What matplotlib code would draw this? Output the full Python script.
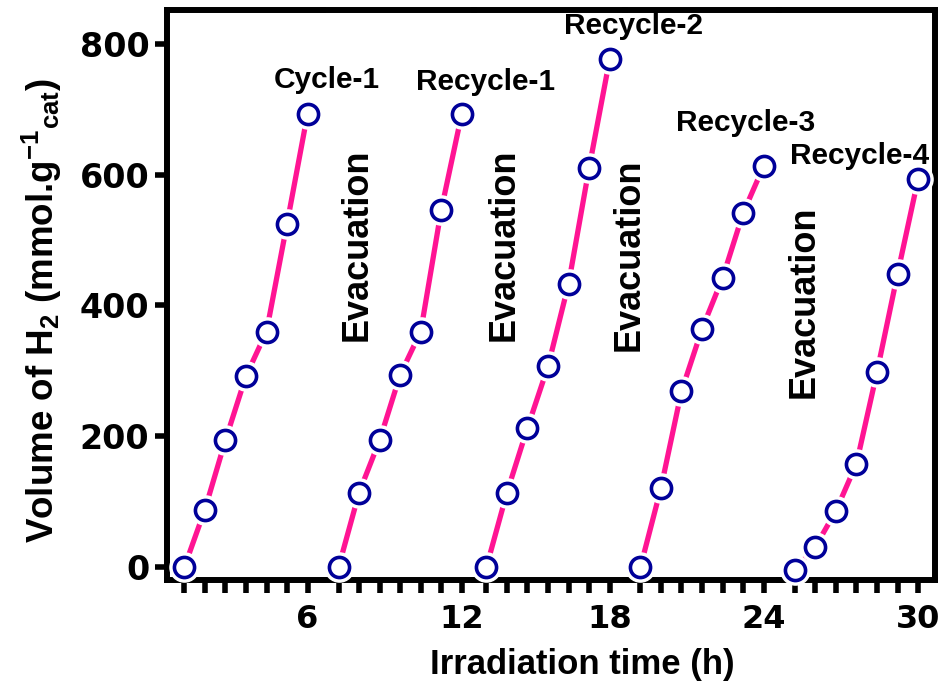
import matplotlib
matplotlib.use("Agg")
import matplotlib.pyplot as plt

# H2 evolution over five 6 h irradiation runs, sampled hourly
cycle_names = ["Cycle-1", "Recycle-1", "Recycle-2", "Recycle-3", "Recycle-4"]
hours = [0, 1, 2, 3, 4, 5, 6]
h2_cycle1 = [0, 88, 194, 292, 360, 525, 693]
h2_recycle1 = [0, 114, 194, 294, 360, 546, 693]
h2_recycle2 = [0, 114, 213, 307, 433, 610, 776]
h2_recycle3 = [0, 121, 269, 364, 442, 541, 613]
h2_recycle4 = [-4, 31, 86, 158, 298, 448, 593]
y_ticks = [0, 200, 400, 600, 800]
cycle_hours = 6

runs = [h2_cycle1, h2_recycle1, h2_recycle2, h2_recycle3, h2_recycle4]

# layout of the stitched panels (hours of empty space either side of each run)
pad_left = [0.83, 0.75, 0.60, 0.77, 0.77]
pad_right = [0.76, 0.60, 0.73, 0.75, 0.84]
# label offsets (points) from the last point of each run
name_offsets = [(14, 24), (17, 23), (17, 24), (-13, 31), (-42, 17)]
# "Evacuation" notes: (panel, x in h, y)
evac_pos = [(1, 6.92, 493), (2, 12.88, 493), (3, 17.47, 477), (4, 24.44, 405)]

pink = "#ff1493"
navy = "#000099"
lab_font = "Liberation Sans"

plt.rcParams["mathtext.fontset"] = "custom"
plt.rcParams["mathtext.rm"] = "Liberation Sans:bold"
plt.rcParams["mathtext.it"] = "Liberation Sans:bold"
plt.rcParams["mathtext.bf"] = "Liberation Sans:bold"

spans = [cycle_hours + l + r for l, r in zip(pad_left, pad_right)]

fig = plt.figure(figsize=(9.4, 6.94), dpi=100)
gs = fig.add_gridspec(1, 5, left=0.178, right=0.995, bottom=0.164, top=0.986,
                      wspace=0, width_ratios=spans)

axes = []
for k, vals in enumerate(runs):
    ax = fig.add_subplot(gs[0, k])
    ax.set_facecolor("none")
    t0 = k * cycle_hours
    x = [t0 + h for h in hours]

    ax.plot(x, vals, color=pink, lw=3.8, zorder=2, solid_capstyle="round")
    # white ring around each symbol leaves a gap in the line
    ax.plot(x, vals, ls="none", marker="o", ms=21, mfc="white", mec="white",
            zorder=3, clip_on=False)
    ax.plot(x, vals, ls="none", marker="o", ms=14.5, mfc="white", mec=navy,
            mew=2.6, zorder=4, clip_on=False)

    ax.set_xlim(t0 - pad_left[k], t0 + cycle_hours + pad_right[k])
    ax.set_ylim(-20, 852)

    ax.set_xticks(x)
    ax.set_xticklabels([""] * (len(x) - 1) + [str(x[-1])],
                       fontsize=23, fontweight="bold", family="DejaVu Sans")
    ax.tick_params(axis="x", direction="out", length=9, width=4, pad=8)

    for side in ax.spines:
        ax.spines[side].set_linewidth(4.3)
    if k > 0:
        ax.spines["left"].set_visible(False)
        ax.tick_params(axis="y", left=False, labelleft=False)
    if k < len(runs) - 1:
        ax.spines["right"].set_visible(False)

    ax.annotate(cycle_names[k], (x[-1], vals[-1]), xytext=name_offsets[k],
                textcoords="offset points", ha="center", va="center",
                fontsize=21.5, fontweight="bold", family=lab_font,
                annotation_clip=False, zorder=5)
    axes.append(ax)

ax0 = axes[0]
ax0.set_yticks(y_ticks)
ax0.set_yticklabels([str(v) for v in y_ticks], fontsize=24,
                    fontweight="bold", family="DejaVu Sans")
ax0.tick_params(axis="y", direction="out", length=9, width=4, pad=4)

for k, xe, ye in evac_pos:
    axes[k].text(xe, ye, "Evacuation", rotation=90, ha="center", va="center",
                 fontsize=26, fontweight="bold", family=lab_font, clip_on=False)

fig.text(0.045, 0.553, r"Volume of H$_2$ (mmol.g$^{-1}$$_{cat}$)", rotation=90,
         ha="center", va="center", fontsize=26.5, fontweight="bold", family=lab_font)
fig.text(0.62, 0.042, "Irradiation time (h)", ha="center", va="center",
         fontsize=25, fontweight="bold", family=lab_font)

fig.savefig("out.png", dpi=100)
